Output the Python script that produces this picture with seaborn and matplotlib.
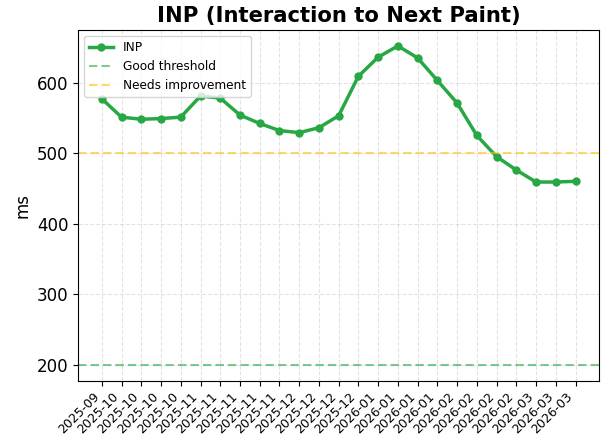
import numpy as np
import pandas as pd
import matplotlib
matplotlib.use('Agg')
import matplotlib.pyplot as plt
import seaborn as sns

# Meses de cada medição (rótulos do eixo x)
months = ['2025-09'] + ['2025-10'] * 4 + ['2025-11'] * 5 + ['2025-12'] * 4 + \
         ['2026-01'] * 4 + ['2026-02'] * 4 + ['2026-03'] * 3
# Valores de INP em ms
inp_ms = [577, 551, 548, 549, 551, 581, 578, 554, 542, 532, 529, 536, 553,
          609, 636, 652, 635, 603, 571, 525, 495, 476, 459, 459, 460]
good_threshold = 200
needs_improvement = 500

df = pd.DataFrame({'idx': np.arange(len(inp_ms)), 'month': months, 'inp': inp_ms})

fig, ax = plt.subplots(figsize=(6.01, 4.41), dpi=100)
fig.subplots_adjust(left=0.13, right=0.997, top=0.932, bottom=0.137)

sns.lineplot(data=df, x='idx', y='inp', marker='o', color='#28a745', linewidth=2.5,
             markersize=6, markeredgewidth=0, label='INP', ax=ax)
ax.axhline(good_threshold, color='#28a745', linestyle='--', alpha=0.6, linewidth=1.5,
           dashes=(4, 2), label='Good threshold')
ax.axhline(needs_improvement, color='#ffc107', linestyle='--', alpha=0.6, linewidth=1.5,
           dashes=(4, 2), label='Needs improvement')

ax.set_title('INP (Interaction to Next Paint)', fontsize=15.2, fontweight='bold')
ax.set_ylabel('ms', fontsize=12)
ax.set_xlabel('')
ax.set_xticks(df['idx'])
ax.set_xticklabels(df['month'], rotation=45, ha='right', fontsize=9)
ax.tick_params(axis='y', labelsize=12)
ax.set_yticks([200, 300, 400, 500, 600])
ax.set_xlim(-1.2, 25.2)
ax.grid(True, linestyle='--', alpha=0.35)
ax.legend(loc='upper left', fontsize=8.7)

plt.savefig('out.png', dpi=100)
plt.close()
